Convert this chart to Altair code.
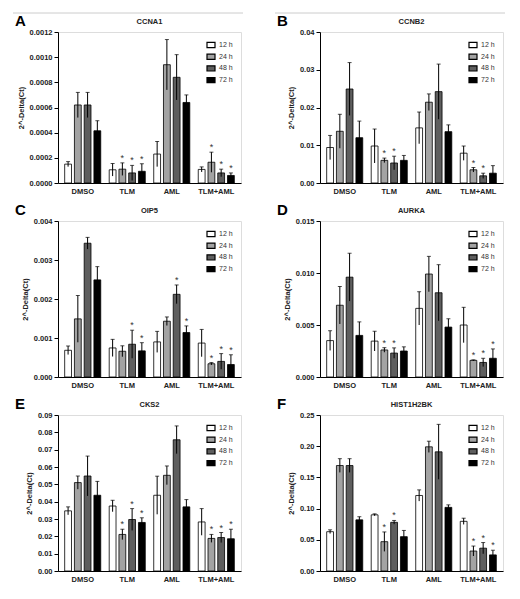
import altair as alt
import pandas as pd

groups = ["DMSO", "TLM", "AML", "TLM+AML"]
times = ["12 h", "24 h", "48 h", "72 h"]
bar_colors = ["#ffffff", "#a3a3a3", "#5e5e5e", "#000000"]

# values listed as DMSO(12,24,48,72), TLM(...), AML(...), TLM+AML(...)
ccna1_mean = [0.00015, 0.00062, 0.00062, 0.000415,
              0.000105, 0.00011, 0.00008, 0.000093,
              0.00023, 0.00094, 0.00084, 0.00064,
              0.000108, 0.000165, 0.00008, 0.00006]
ccna1_err = [0.00002, 0.0001, 0.0001, 0.00008,
             0.00005, 0.00005, 0.00006, 0.00006,
             0.0001, 0.0002, 0.00018, 0.00006,
             0.00002, 0.00008, 0.00003, 0.00002]
ccna1_star = [0, 0, 0, 0, 0, 1, 1, 1, 0, 0, 0, 0, 0, 1, 1, 1]

ccnb2_mean = [0.0094, 0.0137, 0.0249, 0.012,
              0.0098, 0.006, 0.0053, 0.006,
              0.0146, 0.0214, 0.0242, 0.0136,
              0.0079, 0.0035, 0.0019, 0.0026]
ccnb2_err = [0.0032, 0.0045, 0.007, 0.0044,
             0.0045, 0.0006, 0.0018, 0.0013,
             0.0042, 0.0022, 0.0073, 0.0018,
             0.0019, 0.0006, 0.0007, 0.002]
ccnb2_star = [0, 0, 0, 0, 0, 1, 1, 0, 0, 0, 0, 0, 0, 1, 1, 0]

oip5_mean = [0.000685, 0.00149, 0.00343, 0.00249,
             0.000745, 0.00066, 0.00084, 0.00067,
             0.0009, 0.00143, 0.00212, 0.00114,
             0.00087, 0.00034, 0.0004, 0.00032]
oip5_err = [0.00011, 0.0006, 0.00015, 0.00034,
            0.00022, 0.00014, 0.00036, 0.00021,
            0.00027, 0.00011, 0.00024, 0.00017,
            0.00035, 0.00003, 0.0002, 0.00025]
oip5_star = [0, 0, 0, 0, 0, 0, 1, 1, 0, 0, 1, 1, 0, 1, 1, 1]

aurka_mean = [0.0035, 0.0069, 0.0096, 0.0040,
              0.00345, 0.0026, 0.0023, 0.0025,
              0.0066, 0.0099, 0.0081, 0.0048,
              0.005, 0.0016, 0.0014, 0.0018]
aurka_err = [0.00095, 0.0018, 0.0023, 0.0013,
             0.00095, 0.00022, 0.0005, 0.0004,
             0.0016, 0.0017, 0.0027, 0.0008,
             0.0017, 0.00005, 0.0004, 0.0009]
aurka_star = [0, 0, 0, 0, 0, 1, 1, 0, 0, 0, 0, 0, 0, 1, 1, 1]

cks2_mean = [0.0347, 0.051, 0.0548, 0.0437,
             0.0375, 0.0211, 0.0297, 0.028,
             0.0437, 0.0552, 0.0757, 0.037,
             0.0283, 0.0188, 0.0193, 0.0186]
cks2_err = [0.0023, 0.0038, 0.0115, 0.008,
            0.0033, 0.003, 0.0063, 0.0027,
            0.011, 0.0054, 0.008, 0.0042,
            0.0077, 0.0023, 0.0029, 0.0055]
cks2_star = [0, 0, 0, 0, 0, 1, 1, 1, 0, 0, 0, 0, 0, 1, 1, 1]

hist_mean = [0.063, 0.169, 0.169, 0.082,
             0.09, 0.047, 0.078, 0.055,
             0.121, 0.199, 0.191, 0.102,
             0.0796, 0.032, 0.0366, 0.0258]
hist_err = [0.003, 0.011, 0.011, 0.005,
            0.0016, 0.0156, 0.003, 0.01,
            0.009, 0.009, 0.044, 0.004,
            0.005, 0.008, 0.009, 0.0075]
hist_star = [0, 0, 0, 0, 0, 1, 1, 0, 0, 0, 0, 0, 0, 1, 1, 1]

FONT = "Liberation Sans"
YTITLE = "2^-Delta(Ct)"
PW = 183


def panel(letter, gene, mean, err, star, ticks, fmt, height, top_line=False):
    rows = []
    for gi, g in enumerate(groups):
        for ti, t in enumerate(times):
            k = gi * 4 + ti
            rows.append({"group": g, "time": t, "mean": mean[k],
                         "lo": max(mean[k] - err[k], 0), "hi": mean[k] + err[k],
                         "star": "*" if star[k] else ""})
    df = pd.DataFrame(rows)
    ydom = [0, ticks[-1]]
    x = alt.X("group:N", sort=groups, title=None,
              scale=alt.Scale(paddingInner=0.19, paddingOuter=0.15),
              axis=alt.Axis(labelAngle=0, ticks=False, labelFont=FONT,
                            labelFontWeight="bold", labelFontSize=7.5,
                            labelColor="#222", domainColor="black", labelPadding=4))
    xo = alt.XOffset("time:N", sort=times, scale=alt.Scale(paddingInner=0.3, paddingOuter=0))
    yaxis = alt.Axis(values=ticks, format=fmt, grid=False, tickSize=4,
                     labelOverlap=False, labelFont=FONT, labelFontWeight="bold",
                     labelFontSize=7.5, labelColor="#222", domainColor="black",
                     tickColor="black", titleFont=FONT, titleFontWeight="bold",
                     titleFontSize=7.5, titleColor="#222", titlePadding=4,
                     labelPadding=2, title=YTITLE)
    yscale = alt.Scale(domain=ydom, nice=False, zero=True)
    base = alt.Chart(df).encode(x=x, xOffset=xo)
    bars = base.mark_bar(stroke="black", strokeWidth=0.8).encode(
        y=alt.Y("mean:Q", scale=yscale, axis=yaxis),
        color=alt.Color("time:N", sort=times,
                        scale=alt.Scale(domain=times, range=bar_colors),
                        legend=alt.Legend(title=None, orient="top-right", offset=8,
                                          padding=0,
                                          symbolType="M-1,-0.65H1V0.65H-1Z",
                                          symbolSize=64, symbolStrokeColor="black",
                                          symbolStrokeWidth=1.2, labelFont=FONT,
                                          labelFontSize=7, labelColor="#333",
                                          rowPadding=1.7, labelOffset=3)))
    rules = base.mark_rule(color="black", strokeWidth=1).encode(
        y=alt.Y("lo:Q", scale=yscale, axis=yaxis), y2="hi:Q")
    caps = base.mark_tick(color="black", size=4, thickness=1).encode(
        y=alt.Y("hi:Q", scale=yscale, axis=yaxis))
    stars = base.transform_filter(alt.datum.star == "*").mark_text(
        baseline="bottom", dy=0, fontSize=9, font=FONT, color="#333").encode(
        y=alt.Y("hi:Q", scale=yscale, axis=yaxis), text="star:N")
    lab = alt.Chart(pd.DataFrame({"t": [letter]})).mark_text(
        align="left", baseline="alphabetic", fontSize=15, fontWeight="bold",
        font=FONT, color="black").encode(
        x=alt.value(-43), y=alt.value(-6), text="t:N")
    ttl = alt.Chart(pd.DataFrame({"t": [gene]})).mark_text(
        align="center", baseline="alphabetic", fontSize=7.5, fontWeight="bold",
        font=FONT, color="#222").encode(
        x=alt.value(PW / 2), y=alt.value(-8), text="t:N")
    layers = [bars, rules, caps, stars, lab, ttl]
    if top_line:
        line = alt.Chart(pd.DataFrame({"t": [0]})).mark_rule(
            color="#cccccc", strokeWidth=1).encode(
            x=alt.value(-45), x2=alt.value(185), y=alt.value(-19))
        layers.append(line)
    return alt.layer(*layers).properties(width=PW, height=height)


pA = panel("A", "CCNA1", ccna1_mean, ccna1_err, ccna1_star,
           [0, 0.0002, 0.0004, 0.0006, 0.0008, 0.0010, 0.0012], ".4f", 151, True)
pB = panel("B", "CCNB2", ccnb2_mean, ccnb2_err, ccnb2_star,
           [0, 0.01, 0.02, 0.03, 0.04], ".2f", 151, True)
pC = panel("C", "OIP5", oip5_mean, oip5_err, oip5_star,
           [0, 0.001, 0.002, 0.003, 0.004], ".3f", 156)
pD = panel("D", "AURKA", aurka_mean, aurka_err, aurka_star,
           [0, 0.005, 0.010, 0.015], ".3f", 156)
pE = panel("E", "CKS2", cks2_mean, cks2_err, cks2_star,
           [0, 0.01, 0.02, 0.03, 0.04, 0.05, 0.06, 0.07, 0.08, 0.09], ".2f", 156)
pF = panel("F", "HIST1H2BK", hist_mean, hist_err, hist_star,
           [0, 0.05, 0.10, 0.15, 0.20, 0.25], ".2f", 156)

chart = alt.concat(pA, pB, pC, pD, pE, pF, columns=2,
                   spacing={"row": 7, "column": 30}).resolve_scale(
    x="independent", y="independent", color="independent"
).resolve_legend(color="independent").properties(
    padding={"left": 4, "top": 4, "right": 4, "bottom": 2}
).configure_view(stroke=None).configure(background="white")

chart.save("out.html", embed_options={"renderer": "svg", "actions": False})
